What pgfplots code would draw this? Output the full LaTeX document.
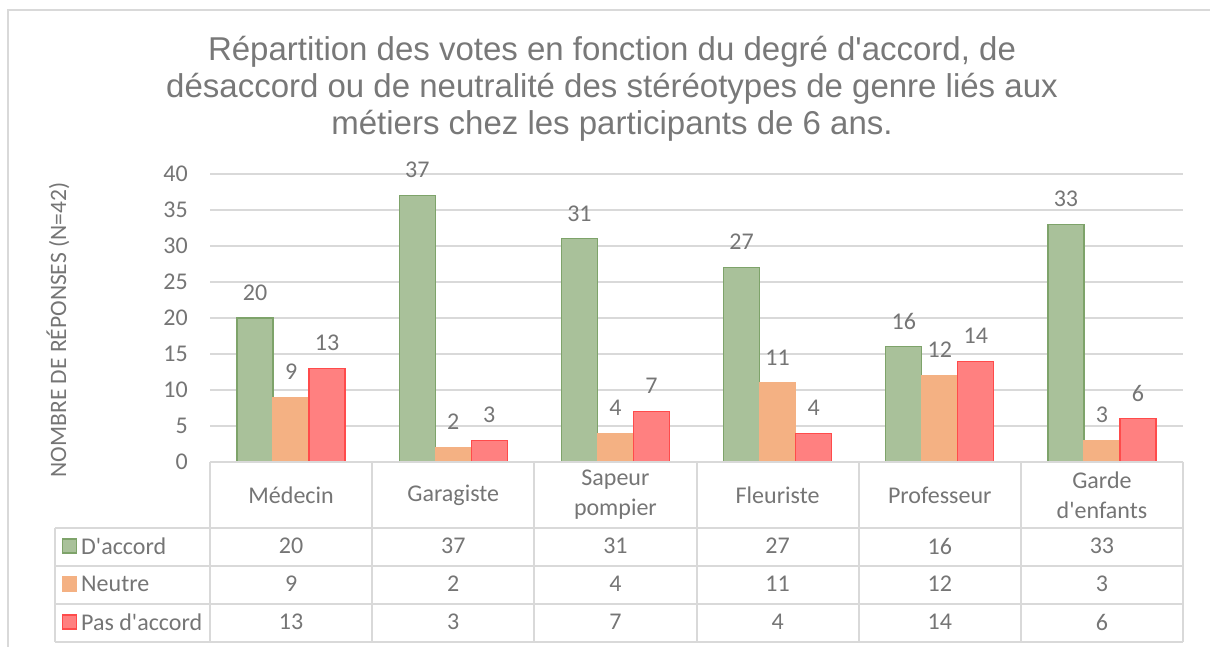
\documentclass[border=0pt]{standalone}
\usepackage{fontspec}
\setmainfont{Carlito}
\newfontfamily\titlefont{Liberation Sans}
\usepackage{pgfplots}
\pgfplotsset{compat=1.18}
\definecolor{txt}{HTML}{757575}
\definecolor{ttl}{HTML}{787878}
\definecolor{gridc}{HTML}{D9D9D9}
\definecolor{gfill}{HTML}{A9C19A}
\definecolor{gdraw}{HTML}{7EA36A}
\definecolor{ofill}{HTML}{F4B183}
\definecolor{rfill}{HTML}{FF8080}
\definecolor{rdraw}{HTML}{FF4B4B}
\begin{document}
\begin{tikzpicture}[x=1pt,y=1pt]
\useasboundingbox (0,0) rectangle (1210,647);
% outer frame
\draw[gridc, line width=2pt] (8,0) -- (8,637) -- (1210,637);
% title
\node[align=center, text=ttl, font=\titlefont\fontsize{33}{37}\selectfont] at (612,558)
  {Répartition des votes en fonction du degré d\textquotesingle accord, de\\désaccord ou de neutralité des stéréotypes de genre liés aux\\métiers chez les participants de 6 ans.};
% y label
\node[rotate=90, text=txt, font=\fontsize{23.5}{27}\selectfont] at (58,317) {NOMBRE DE RÉPONSES (N=42)};
\begin{axis}[
  at={(210pt,185pt)}, anchor=south west,
  scale only axis, width=973pt, height=288pt,
  ymin=0, ymax=40, xmin=-0.5, xmax=5.5,
  ytick={0,5,...,40},
  xtick=\empty,
  ymajorgrids, grid style={gridc, line width=1.3pt},
  axis line style={draw=none},
  major tick length=0pt,
  ybar=0pt, bar width=36pt,
  /pgf/number format/assume math mode=true,
  yticklabel style={font=\fontsize{24}{28}\selectfont, text=txt, inner sep=0pt, anchor=east, xshift=-22pt},
  nodes near coords,
  nodes near coords style={font=\fontsize{24}{28}\selectfont, text=txt, inner sep=0pt, anchor=south, yshift=17pt},
  clip=false,
]
\addplot[fill=gfill, draw=gdraw, line width=1.2pt] coordinates {(0,20) (1,37) (2,31) (3,27) (4,16) (5,33)};
\addplot[fill=ofill, draw=ofill, line width=1.2pt] coordinates {(0,9) (1,2) (2,4) (3,11) (4,12) (5,3)};
\addplot[fill=rfill, draw=rdraw, line width=1.2pt] coordinates {(0,13) (1,3) (2,7) (3,4) (4,14) (5,6)};
\end{axis}
% data table grid
\begin{scope}[gridc, line width=2pt]
\draw (210,185) -- (1183,185);
\foreach \yy in {119,80.5,42.5,4.5} \draw (55,\yy) -- (1183,\yy);
\foreach \i in {0,...,6} \draw ({210+162.17*\i},185) -- ({210+162.17*\i},4.5);
\draw (55,119) -- (55,4.5);
\end{scope}
% header labels
\foreach \lab [count=\i from 0] in {{Médecin},{Garagiste},{Sapeur\\pompier},{Fleuriste},{Professeur},{Garde\\d\textquotesingle enfants}}
  \node[align=center, text=txt, font=\fontsize{24}{30}\selectfont] at ({210+162.17*(\i+0.5)},152) {\lab};
% legend column
\foreach \nm/\fc/\dc/\yy in {{D\textquotesingle accord}/gfill/gdraw/101, {Neutre}/ofill/ofill/63, {Pas d\textquotesingle accord}/rfill/rdraw/25}{
  \draw[fill=\fc, draw=\dc, line width=1.2pt] (62.5,\yy-7) rectangle (76.5,\yy+7);
  \node[anchor=west, inner sep=0pt, text=txt, font=\fontsize{24}{28}\selectfont] at (81,\yy) {\nm};
}
% table values
\foreach \v [count=\i from 0] in {20,37,31,27,16,33}
  \node[text=txt, font=\fontsize{24}{28}\selectfont] at ({210+162.17*(\i+0.5)},101) {\v};
\foreach \v [count=\i from 0] in {9,2,4,11,12,3}
  \node[text=txt, font=\fontsize{24}{28}\selectfont] at ({210+162.17*(\i+0.5)},63) {\v};
\foreach \v [count=\i from 0] in {13,3,7,4,14,6}
  \node[text=txt, font=\fontsize{24}{28}\selectfont] at ({210+162.17*(\i+0.5)},25) {\v};
\end{tikzpicture}
\end{document}
